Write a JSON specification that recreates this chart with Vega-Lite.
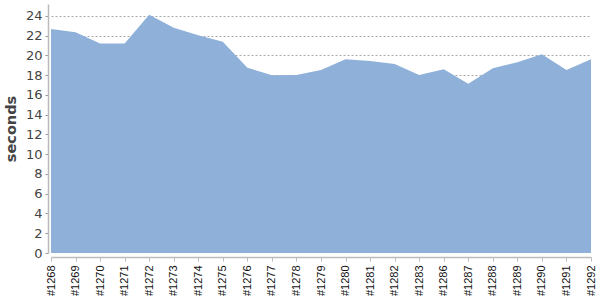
{
  "$schema": "https://vega.github.io/schema/vega-lite/v6.json",
  "autosize": "none",
  "width": 540,
  "height": 249,
  "padding": {"left": 51, "top": 4, "right": 9, "bottom": 47},
  "background": "white",
  "config": {
    "view": {"stroke": null},
    "font": "DejaVu Sans"
  },
  "data": {
    "values": [
      {"build": "#1268", "seconds": 22.66},
      {"build": "#1269", "seconds": 22.35},
      {"build": "#1270", "seconds": 21.2},
      {"build": "#1271", "seconds": 21.2},
      {"build": "#1272", "seconds": 24.1},
      {"build": "#1273", "seconds": 22.8},
      {"build": "#1274", "seconds": 22.05},
      {"build": "#1275", "seconds": 21.37},
      {"build": "#1276", "seconds": 18.76},
      {"build": "#1277", "seconds": 18.0},
      {"build": "#1278", "seconds": 18.02},
      {"build": "#1279", "seconds": 18.53},
      {"build": "#1280", "seconds": 19.6},
      {"build": "#1281", "seconds": 19.44},
      {"build": "#1282", "seconds": 19.14},
      {"build": "#1283", "seconds": 18.02},
      {"build": "#1286", "seconds": 18.6},
      {"build": "#1287", "seconds": 17.14},
      {"build": "#1288", "seconds": 18.7},
      {"build": "#1289", "seconds": 19.3},
      {"build": "#1290", "seconds": 20.12},
      {"build": "#1291", "seconds": 18.53},
      {"build": "#1292", "seconds": 19.6}
    ]
  },
  "mark": {"type": "area", "color": "#8eb0d9", "opacity": 1, "interpolate": "linear"},
  "encoding": {
    "x": {
      "field": "build",
      "type": "ordinal",
      "sort": null,
      "scale": {"type": "point", "padding": 0},
      "axis": {
        "title": null,
        "labelAngle": -90,
        "labelFont": "Liberation Sans",
        "labelFontSize": 11,
        "labelColor": "#111",
        "labelPadding": 4,
        "offset": 4,
        "domainColor": "#bbb",
        "domainWidth": 1.5,
        "tickColor": "#bbb",
        "tickSize": 4,
        "grid": false
      }
    },
    "y": {
      "field": "seconds",
      "type": "quantitative",
      "scale": {"domain": [0, 25.2], "nice": false},
      "axis": {
        "title": "seconds",
        "titleFontSize": 14.5,
        "titleFontWeight": "bold",
        "titleColor": "#444",
        "titlePadding": 7,
        "values": [0, 2, 4, 6, 8, 10, 12, 14, 16, 18, 20, 22, 24],
        "labelFontSize": 13,
        "labelColor": "#444",
        "labelPadding": 3,
        "offset": 3,
        "domainColor": "#bbb",
        "domainWidth": 1.5,
        "tickColor": "#999",
        "tickSize": 3,
        "grid": true,
        "gridColor": {"condition": {"test": "datum.value === 0", "value": "transparent"}, "value": "#777"},
        "gridDash": [2, 2],
        "gridWidth": 0.8,
        "gridOpacity": 0.8
      }
    }
  }
}
